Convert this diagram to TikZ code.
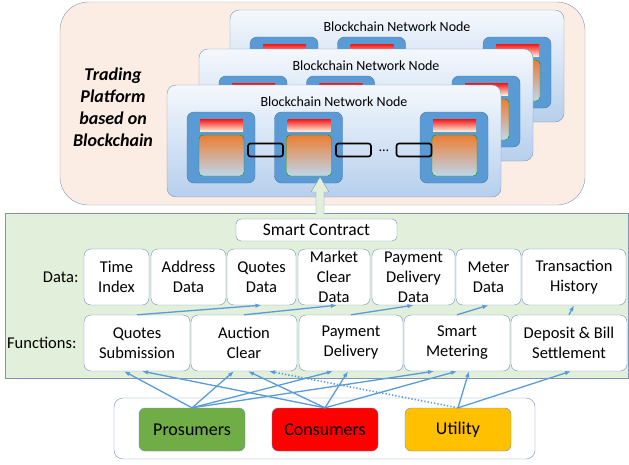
\documentclass[tikz,border=0pt]{standalone}
\usepackage{fontspec}
\setmainfont{Carlito}
\usetikzlibrary{calc,arrows.meta}

\definecolor{peach}{RGB}{252,237,228}
\definecolor{frame}{RGB}{125,150,182}
\definecolor{leaf}{RGB}{226,239,218}
\definecolor{wire}{RGB}{91,155,213}
\definecolor{edge}{RGB}{110,145,192}
\definecolor{chain}{RGB}{91,155,213}
\definecolor{chainedge}{RGB}{70,120,170}
\definecolor{cellorange}{RGB}{237,125,49}
\definecolor{cellblue}{RGB}{189,215,238}
\definecolor{barred}{RGB}{245,20,20}
\definecolor{barcream}{RGB}{252,236,214}
\definecolor{nodetop}{RGB}{244,248,253}
\definecolor{nodebot}{RGB}{182,207,236}
\definecolor{prosgreen}{RGB}{112,173,71}
\definecolor{utilgold}{RGB}{255,192,0}

\tikzset{
  netbox/.style={draw=frame, rounded corners=9pt, top color=nodetop, bottom color=nodebot,
    minimum width=334pt, minimum height=112pt, inner sep=0pt},
  chainblk/.style={draw=chainedge, fill=chain, rounded corners=7pt,
    minimum width=68pt, minimum height=71pt, inner sep=0pt},
  hdrbar/.style={top color=barred, bottom color=barcream,
    minimum width=43pt, minimum height=12pt, inner sep=0pt},
  bodycell/.style={draw=green!60!black, top color=cellorange, bottom color=cellblue,
    rounded corners=4pt, minimum width=45pt, minimum height=41pt, inner sep=0pt},
  linkbox/.style={draw=black, line width=1.6pt, rounded corners=2.5pt,
    minimum width=35pt, minimum height=13pt, inner sep=0pt},
  fnbox/.style={draw=edge, fill=white, rounded corners=7pt, minimum height=56pt,
    inner sep=0pt, align=center, font=\fontsize{16.5}{20}\selectfont},
  actor/.style={draw=edge, rounded corners=6pt, minimum width=106pt, minimum height=43pt,
    inner sep=0pt, font=\fontsize{18}{20}\selectfont},
  feed/.style={wire, line width=1.3pt, -{Latex[length=6pt,width=4.5pt]}},
}

% one blockchain node: name, top-left corner
\newcommand{\netlayer}[3]{%
  \begin{scope}[shift={(#2,#3)}]
    \node[netbox] (#1) at (167,56) {};
    \node[font=\fontsize{14}{16}\selectfont] (#1-title) at (167,17) {Blockchain Network Node};
    \foreach \bx [count=\k] in {54,141.5,287}{
      \node[chainblk] (#1-blk\k) at (\bx,62.5) {};
      \node[hdrbar] (#1-hdr\k) at (\bx+0.5,40) {};
      \node[bodycell] (#1-cell\k) at (\bx+0.5,70.5) {};
    }
    \node[linkbox] (#1-lnk1) at (98.5,65) {};
    \node[linkbox] (#1-lnk2) at (186.5,65) {};
    \node[linkbox] (#1-lnk3) at (247,65) {};
    \node[font=\fontsize{14}{16}\selectfont] (#1-dots) at (217,66) {\ldots};
  \end{scope}}

\begin{document}
\begin{tikzpicture}[x=1pt,y=-1pt]
\useasboundingbox (0,0) rectangle (629,464);

% platform
\node[draw=frame, fill=peach, rounded corners=28pt, minimum width=525pt, minimum height=203pt] (platform) at (322.5,103.5) {};
\node[font=\bfseries\itshape\fontsize{18}{22}\selectfont, align=center] (ptitle) at (113,107) {Trading\\Platform\\based on\\Blockchain};

\netlayer{back}{230}{10}
\netlayer{mid}{199}{49}
\netlayer{front}{167}{85}

% smart contract layer
\node[draw=frame, fill=leaf, minimum width=623pt, minimum height=165pt] (contract) at (316.5,295.5) {};
\draw[frame, fill=leaf] (316,214) -- (316,192) -- (311,192) -- (320,177) -- (329,192) -- (324,192) -- (324,214);
\node[draw=edge, fill=white, rounded corners=5pt, minimum width=161pt, minimum height=22pt,
  inner sep=0pt, font=\fontsize{17.5}{20}\selectfont] (sc) at (316.5,230) {Smart Contract};

\node[anchor=east, font=\fontsize{16.5}{20}\selectfont] (datalbl) at (82,277) {Data:};
\node[anchor=east, font=\fontsize{16.5}{20}\selectfont] (fnlbl) at (80,343) {Functions:};

% data
\node[fnbox, minimum width=65pt] (tidx) at (116.5,277) {Time\\Index};
\node[fnbox, minimum width=75pt] (addr) at (188.5,277) {Address\\Data};
\node[fnbox, minimum width=69pt] (quot) at (261.5,277) {Quotes\\Data};
\node[fnbox, minimum width=72pt] (mclr) at (334,277) {Market\\Clear\\Data};
\node[fnbox, minimum width=83pt] (payd) at (413.5,277) {Payment\\Delivery\\Data};
\node[fnbox, minimum width=65pt] (metr) at (488.5,277) {Meter\\Data};
\node[fnbox, minimum width=104pt] (txhi) at (574,277) {Transaction\\History};

% functions
\node[fnbox, minimum width=106pt] (qsub) at (137,343) {Quotes\\Submission};
\node[fnbox, minimum width=106pt] (aucl) at (244,343) {Auction\\Clear};
\node[fnbox, minimum width=104pt] (pdel) at (351,343) {Payment\\Delivery};
\node[fnbox, minimum width=106pt] (smet) at (457,343) {Smart\\Metering};
\node[fnbox, minimum width=116pt] (dbst) at (569,343) {Deposit \& Bill\\Settlement};

\draw[feed] (qsub.north) -- (quot.south);
\draw[feed] (aucl.north) -- ([xshift=3pt]mclr.south);
\draw[feed] (pdel.north) -- (payd.south);
\draw[feed] (smet.north) -- (metr.south);
\draw[feed] (dbst.north) -- (txhi.south);

% participants
\node[draw=edge, fill=white, rounded corners=9pt, minimum width=421pt, minimum height=61pt] (actors) at (324.5,428.5) {};
\node[actor, fill=prosgreen] (pros) at (192,429.5) {Prosumers};
\node[actor, fill=red] (cons) at (325,429.5) {Consumers};
\node[actor, fill=utilgold] (util) at (458,429.5) {Utility};

\foreach \dst/\dx in {qsub/-13, aucl/-10, pdel/-18, smet/-23}
  \draw[feed] (pros.north) -- ([xshift=\dx pt]\dst.south);
\foreach \dst/\dx in {qsub/5, aucl/4, pdel/-3, smet/0}
  \draw[feed] (cons.north) -- ([xshift=\dx pt]\dst.south);
\draw[feed, dotted, line width=1.6pt] (util.north) -- ([xshift=25pt]aucl.south);
\draw[feed] (util.north) -- ([xshift=12pt]smet.south);
\draw[feed] (util.north) -- ([xshift=2pt]dbst.south);
\end{tikzpicture}
\end{document}
